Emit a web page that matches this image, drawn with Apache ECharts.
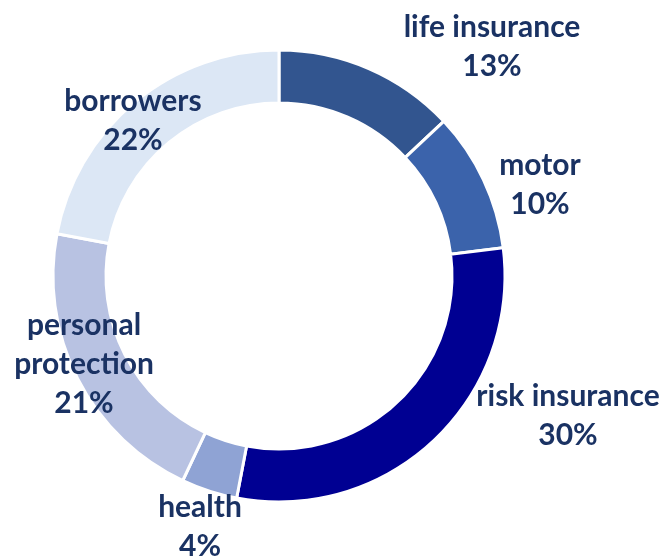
<!DOCTYPE html>
<html><head><meta charset="utf-8">
<script src="https://cdn.jsdelivr.net/npm/echarts@6/dist/echarts.min.js"></script>
<style>html,body{margin:0;padding:0;background:#fff}#c{width:665px;height:556px}</style>
</head><body><div id="c"></div>
<script>
const categories = ['life insurance', 'motor', 'risk insurance', 'health', 'personal protection', 'borrowers'];
const shares = [13, 10, 30, 4, 21, 22];
const sliceColors = ['#32558F', '#3B63AB', '#000092', '#8FA3D4', '#B8C2E2', '#DCE7F5'];
const labelPos = [[492, 47], [540, 185], [568, 416], [200, 527], [84, 364], [133, 121]];

const chart = echarts.init(document.getElementById('c'), null, {renderer: 'canvas'});
chart.setOption({
  animation: false,
  series: [{
    type: 'pie',
    center: [279, 276],
    radius: [173, 226],
    startAngle: 90,
    clockwise: true,
    avoidLabelOverlap: false,
    itemStyle: {borderColor: '#fff', borderWidth: 3},
    labelLine: {show: false},
    label: {
      show: true,
      position: 'outside',
      alignTo: 'none',
      overflow: 'none',
      width: 300,
      color: '#1A3263',
      fontFamily: 'Lato',
      fontWeight: 'bold',
      fontSize: 30,
      lineHeight: 39,
      align: 'center',
      formatter: p => (p.name === 'personal protection' ? 'personal\nprotection' : p.name) + '\n' + p.value + '%'
    },
    labelLayout: p => ({x: labelPos[p.dataIndex][0], y: labelPos[p.dataIndex][1], align: 'center', verticalAlign: 'middle'}),
    data: categories.map((c, i) => ({name: c, value: shares[i], itemStyle: {color: sliceColors[i]}}))
  }]
});
</script></body></html>
